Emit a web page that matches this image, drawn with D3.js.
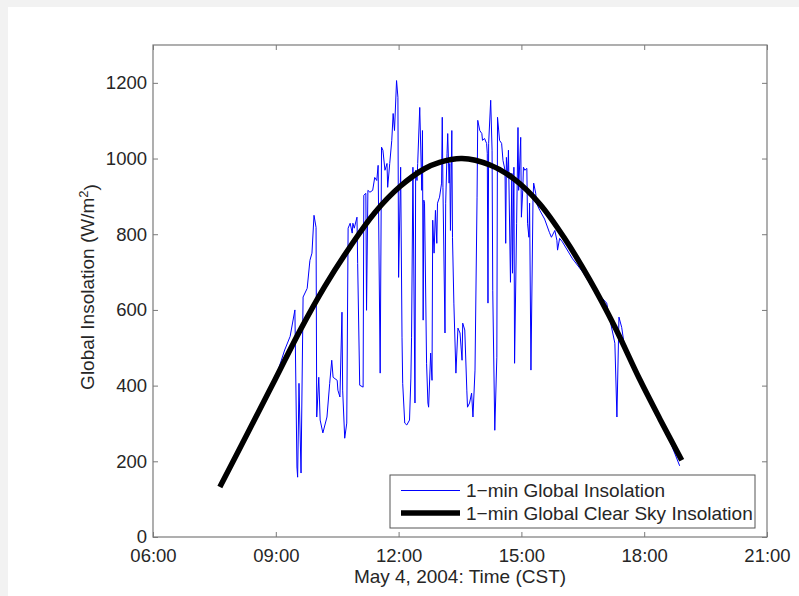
<!DOCTYPE html>
<html>
<head>
<meta charset="utf-8">
<script src="https://cdn.jsdelivr.net/npm/d3@7"></script>
<style>
  body { margin: 0; background: #f2f2f2; }
  text { font-family: Arial, "Liberation Sans", sans-serif; fill: #262626; }
</style>
</head>
<body>
<div class="chart"></div>
<script>
// tick labels
var timeTicks = [360, 540, 720, 900, 1080, 1260];
var timeLabels = ["06:00", "09:00", "12:00", "15:00", "18:00", "21:00"];
var valueTicks = [0, 200, 400, 600, 800, 1000, 1200];

// measured 1-min global insolation (minutes since midnight, W/m2)
var measTime = [476, 502, 524, 539, 553, 561, 568, 571, 572, 574, 577, 580, 586, 590, 593, 596, 599,
  600, 603, 605, 609, 615, 619, 622, 624, 630, 631, 634, 637, 638, 641, 644, 646, 649, 652, 653,
  655, 659, 660, 663, 668, 669, 672, 673, 675, 678, 682, 685, 688, 690, 693, 695, 697, 700, 703,
  704, 707, 710, 712, 714, 717, 719, 720, 723, 725, 726, 729, 732, 736, 738, 739, 741, 744, 745,
  747, 748, 751, 754, 755, 756, 757, 758, 761, 763, 764, 767, 769, 770, 772, 774, 776, 777, 780,
  783, 784, 785, 788, 789, 791, 792, 794, 795, 796, 798, 799, 801, 804, 807, 810, 813, 814, 817,
  820, 821, 824, 827, 829, 832, 835, 836, 839, 842, 843, 846, 849, 850, 851, 852, 855, 857, 858,
  861, 864, 865, 868, 871, 873, 876, 877, 878, 880, 881, 884, 886, 887, 889, 890, 893, 895, 896,
  899, 900, 902, 903, 905, 908, 909, 911, 912, 914, 917, 918, 921, 922, 927, 934, 941, 944, 949,
  952, 953, 956, 960, 975, 990, 1005, 1015, 1019, 1025, 1029, 1037, 1040, 1043, 1047, 1051, 1062,
  1073, 1088, 1103, 1118, 1132];
var measValue = [193, 286, 363, 416, 494, 530, 600, 185, 158, 406, 169, 634, 657, 731, 750, 850, 818,
  317, 422, 309, 275, 317, 406, 467, 422, 414, 388, 370, 594, 388, 261, 301, 816, 829, 803, 829,
  816, 845, 723, 401, 396, 903, 908, 599, 916, 911, 916, 950, 942, 982, 433, 1030, 1022, 969, 987,
  924, 987, 1048, 1119, 1074, 1206, 1162, 686, 977, 528, 406, 301, 296, 309, 420, 528, 977, 354, 969,
  942, 987, 1135, 916, 1074, 573, 890, 882, 459, 354, 343, 486, 414, 837, 750, 863, 776, 882, 898,
  935, 1109, 924, 539, 882, 1014, 1066, 935, 987, 810, 1074, 792, 618, 433, 552, 539, 467, 565, 547,
  388, 343, 354, 380, 317, 441, 898, 1101, 1074, 1066, 1048, 1053, 1040, 1014, 618, 1040, 1154, 1022, 652,
  282, 475, 1109, 1048, 1040, 995, 969, 776, 1003, 950, 1022, 673, 961, 697, 977, 459, 829, 1082, 916,
  1056, 845, 916, 977, 969, 974, 829, 792, 882, 441, 890, 935, 908, 882, 863, 840, 805, 792, 810,
  784, 758, 789, 780, 735, 700, 655, 630, 630, 618, 581, 512, 317, 581, 554, 505, 460,
  416, 362, 310, 252, 188];

// clear sky model (minutes since midnight, W/m2)
var clearTime = [458, 502, 539, 575, 612, 649, 685, 722, 758, 780, 813, 854, 890, 927, 963, 1000,
  1037, 1073, 1103, 1135];
var clearValue = [132, 286, 416, 544, 663, 767, 857, 926, 973, 990, 1000, 983, 945, 880, 790, 680,
  555, 418, 312, 203];

var legendLabels = ["1\u2212min Global Insolation", "1\u2212min Global Clear Sky Insolation"];

var W = 799, H = 596;
var margin = { top: 45, right: 32, bottom: 59, left: 153 },
    width = W - margin.left - margin.right,
    height = H - margin.top - margin.bottom;

var svg = d3.select(".chart").append("svg")
    .attr("width", W)
    .attr("height", H);

svg.append("rect")
    .attr("x", 8).attr("y", 7)
    .attr("width", W - 8).attr("height", H - 7)
    .attr("fill", "#fff");

var g = svg.append("g")
    .attr("transform", "translate(" + margin.left + "," + margin.top + ")");

var x = d3.scaleLinear().domain([360, 1260]).range([0, width]);
var y = d3.scaleLinear().domain([0, 1300]).range([height, 0]);

var axisColor = "#7a7a7a";

function styleAxis(sel) {
    sel.select(".domain").remove();
    sel.selectAll(".tick line").attr("stroke", axisColor);
    sel.selectAll("text").style("font-size", "18.5px").attr("fill", "#262626");
}

g.append("g")
    .attr("transform", "translate(0," + height + ")")
    .call(d3.axisBottom(x).tickValues(timeTicks)
        .tickFormat(function (d, i) { return timeLabels[i]; })
        .tickSizeInner(-5).tickSizeOuter(0).tickPadding(12))
    .call(styleAxis);

g.append("g")
    .call(d3.axisTop(x).tickValues(timeTicks).tickFormat("")
        .tickSizeInner(-5).tickSizeOuter(0))
    .call(styleAxis);

g.append("g")
    .call(d3.axisLeft(y).tickValues(valueTicks).tickFormat(d3.format("d"))
        .tickSizeInner(-5).tickSizeOuter(0).tickPadding(6))
    .call(styleAxis);

g.append("g")
    .attr("transform", "translate(" + width + ",0)")
    .call(d3.axisRight(y).tickValues(valueTicks).tickFormat("")
        .tickSizeInner(-5).tickSizeOuter(0))
    .call(styleAxis);

// box
g.append("rect")
    .attr("width", width).attr("height", height)
    .attr("fill", "none")
    .attr("stroke", axisColor)
    .attr("stroke-width", 1.2);

// lines
var measLine = d3.line()
    .x(function (d, i) { return x(measTime[i]); })
    .y(function (d) { return y(d); });

g.append("path")
    .datum(measValue)
    .attr("d", measLine)
    .attr("fill", "none")
    .attr("stroke", "#0000ff")
    .attr("stroke-width", 1)
    .attr("stroke-linejoin", "round");

var clearLine = d3.line()
    .x(function (d, i) { return x(clearTime[i]); })
    .y(function (d) { return y(d); })
    .curve(d3.curveCatmullRom);

g.append("path")
    .datum(clearValue)
    .attr("d", clearLine)
    .attr("fill", "none")
    .attr("stroke", "#000")
    .attr("stroke-width", 5.5);

// legend
var legend = g.append("g")
    .attr("transform", "translate(" + (390 - margin.left) + "," + (475 - margin.top) + ")");

legend.append("rect")
    .attr("width", 365).attr("height", 53)
    .attr("fill", "#fff")
    .attr("stroke", "#555")
    .attr("stroke-width", 1);

var legendStyle = [{ color: "#0000ff", w: 1 }, { color: "#000", w: 5.5 }];

legendLabels.forEach(function (label, i) {
    var ly = 15.5 + i * 22.5;
    legend.append("line")
        .attr("x1", 11).attr("x2", 70)
        .attr("y1", ly).attr("y2", ly)
        .attr("stroke", legendStyle[i].color)
        .attr("stroke-width", legendStyle[i].w);
    legend.append("text")
        .attr("x", 76).attr("y", ly)
        .attr("dy", "0.35em")
        .style("font-size", "19px")
        .text(label);
});

// axis labels
g.append("text")
    .attr("x", width / 2)
    .attr("y", height + 46)
    .attr("text-anchor", "middle")
    .style("font-size", "19px")
    .text("May 4, 2004: Time (CST)");

var ylab = g.append("text")
    .attr("transform", "translate(-59," + (height / 2 - 4) + ")rotate(-90)")
    .attr("text-anchor", "middle")
    .style("font-size", "19px");
ylab.append("tspan").text("Global Insolation (W/m");
ylab.append("tspan").attr("dy", "-0.45em").style("font-size", "13px").text("2");
ylab.append("tspan").attr("dy", "0.45em").text(")");
</script>
</body>
</html>
